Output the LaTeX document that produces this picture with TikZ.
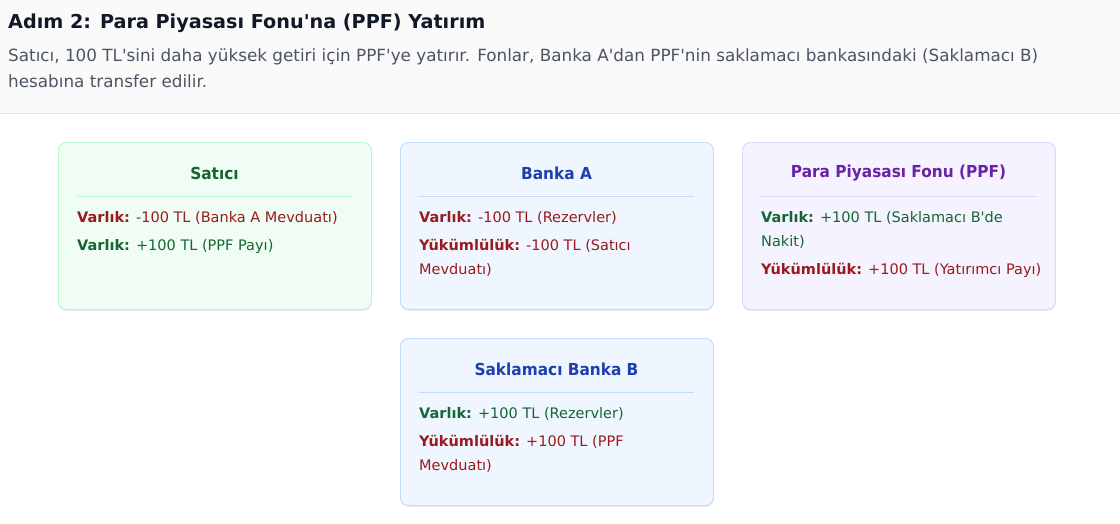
\documentclass[tikz,border=0pt]{standalone}
\usepackage{fontspec}
\setmainfont{DejaVu Sans}[Ligatures=TeXOff]
\newfontfamily\ttlfont{DejaVu Sans}[Ligatures=TeXOff, FakeStretch=0.93]
\usetikzlibrary{shadows}
\definecolor{hdrbg}{HTML}{FAFAFA}
\definecolor{hdrline}{HTML}{E5E7EB}
\definecolor{hdrtitle}{HTML}{111827}
\definecolor{hdrtext}{HTML}{4B5563}
\definecolor{grnfill}{HTML}{F0FDF4}
\definecolor{grnborder}{HTML}{BBF7D0}
\definecolor{grntitle}{HTML}{166534}
\definecolor{bluefill}{HTML}{EFF6FF}
\definecolor{blueborder}{HTML}{BFDBFE}
\definecolor{bluetitle}{HTML}{1E40AF}
\definecolor{purfill}{HTML}{F5F3FF}
\definecolor{purborder}{HTML}{DDD6FE}
\definecolor{purtitle}{HTML}{6B21A8}
\definecolor{redtxt}{HTML}{991B1B}
\definecolor{grntxt}{HTML}{166534}
\tikzset{
  card/.style={draw, rounded corners=8pt, line width=0.9pt, minimum width=313pt, minimum height=167pt, inner sep=0pt, anchor=north west,
    drop shadow={shadow xshift=0pt, shadow yshift=-1.5pt, opacity=0.08, fill=black}},
  ttl/.style={font=\ttlfont\fontsize{16.5}{20}\selectfont\bfseries, inner sep=0pt, anchor=center},
  ln/.style={font=\fontsize{14.5}{18}\selectfont, inner sep=0pt, anchor=base west},
  hdr/.style={font=\fontsize{16.8}{20}\selectfont, text=hdrtext, inner sep=0pt, anchor=base west},
  divider/.style={line width=0.8pt}
}
\begin{document}
\begin{tikzpicture}[x=1pt,y=-1pt]
\useasboundingbox (0,0) rectangle (1120,523);
\fill[white] (0,0) rectangle (1120,523);
\fill[hdrbg] (0,0) rectangle (1120,113);
\draw[hdrline, line width=1pt] (0,113) -- (1120,113);

\node[font=\fontsize{19.2}{24}\selectfont\bfseries, text=hdrtitle, inner sep=0pt, anchor=base west] (htitle) at (8,28) {Adım 2: Para Piyasası Fonu'na (PPF) Yatırım};
\node[hdr] (hsub1) at (8,61) {Satıcı, 100 TL'sini daha yüksek getiri için PPF'ye yatırır. Fonlar, Banka A'dan PPF'nin saklamacı bankasındaki (Saklamacı B)};
\node[hdr] (hsub2) at (8,87) {hesabına transfer edilir.};

% Satici
\node[card, draw=grnborder, fill=grnfill] (satici) at (58,142) {};
\node[ttl, text=grntitle] (saticit) at (214.5,173) {Satıcı};
\draw[divider, grnborder] (77,196) -- (352,196);
\node[ln, text=redtxt] (satici1) at (77,222.5) {\textbf{Varlık:} -100 TL (Banka A Mevduatı)};
\node[ln, text=grntxt] (satici2) at (77,250.5) {\textbf{Varlık:} +100 TL (PPF Payı)};

% Banka A
\node[card, draw=blueborder, fill=bluefill] (bankaa) at (400,142) {};
\node[ttl, text=bluetitle] (bankaat) at (556.5,173) {Banka A};
\draw[divider, blueborder] (419,196) -- (694,196);
\node[ln, text=redtxt] (bankaa1) at (419,222.5) {\textbf{Varlık:} -100 TL (Rezervler)};
\node[ln, text=redtxt] (bankaa2) at (419,250.5) {\textbf{Yükümlülük:} -100 TL (Satıcı};
\node[ln, text=redtxt] (bankaa3) at (419,274.5) {Mevduatı)};

% PPF
\node[card, draw=purborder, fill=purfill] (ppf) at (742,142) {};
\node[ttl, text=purtitle] (ppft) at (898.5,173) {Para Piyasası Fonu (PPF)};
\draw[divider, purborder] (761,196) -- (1036,196);
\node[ln, text=grntxt] (ppf1) at (761,222.5) {\textbf{Varlık:} +100 TL (Saklamacı B'de};
\node[ln, text=grntxt] (ppf2) at (761,246.5) {Nakit)};
\node[ln, text=redtxt] (ppf3) at (761,274.5) {\textbf{Yükümlülük:} +100 TL (Yatırımcı Payı)};

% Saklamaci Banka B
\node[card, draw=blueborder, fill=bluefill] (bankab) at (400,338) {};
\node[ttl, text=bluetitle] (bankabt) at (556.5,369) {Saklamacı Banka B};
\draw[divider, blueborder] (419,392) -- (694,392);
\node[ln, text=grntxt] (bankab1) at (419,418.5) {\textbf{Varlık:} +100 TL (Rezervler)};
\node[ln, text=redtxt] (bankab2) at (419,446.5) {\textbf{Yükümlülük:} +100 TL (PPF};
\node[ln, text=redtxt] (bankab3) at (419,470.5) {Mevduatı)};
\end{tikzpicture}
\end{document}
